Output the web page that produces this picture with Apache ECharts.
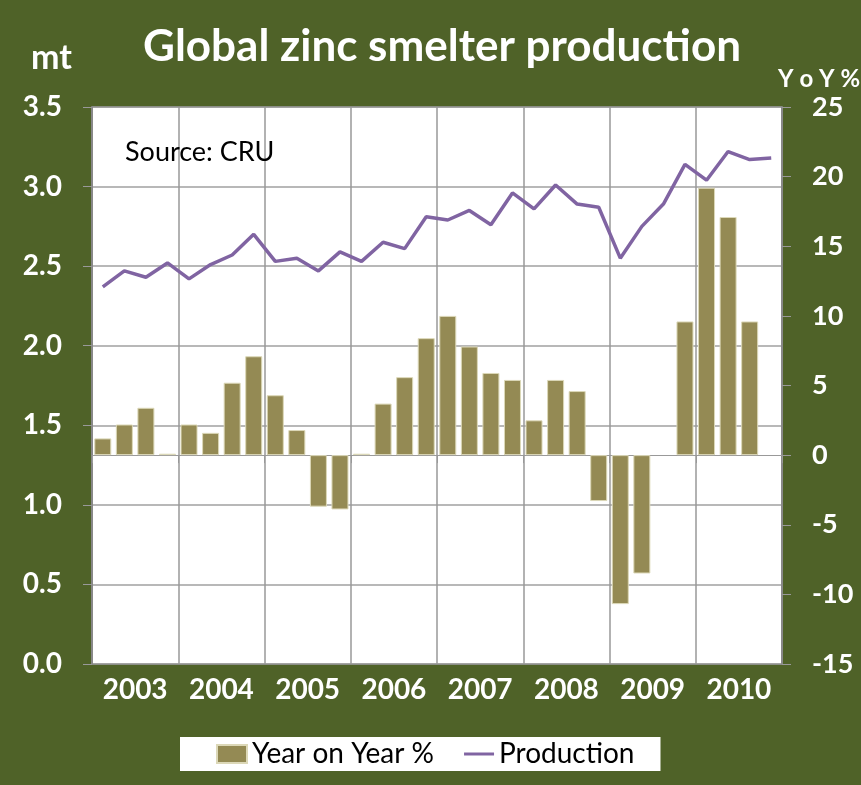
<!DOCTYPE html>
<html>
<head>
<meta charset="utf-8">
<script src="https://cdn.jsdelivr.net/npm/echarts@6/dist/echarts.min.js"></script>
<style>
  html, body { margin: 0; padding: 0; background: #4f6228; }
  #chart { width: 861px; height: 785px; }
</style>
</head>
<body>
<div id="chart"></div>
<script>
// quarterly data, 2003 Q1 .. 2010 Q4
var years = ["2003", "2004", "2005", "2006", "2007", "2008", "2009", "2010"];
var quarters = [];
years.forEach(function (y) {
  quarters.push(y + " Q1", y + " Q2", y + " Q3", y + " Q4");
});

// Production, million tonnes (left axis)
var production = [
  2.37, 2.47, 2.43, 2.52,
  2.42, 2.51, 2.57, 2.70,
  2.53, 2.55, 2.47, 2.59,
  2.53, 2.65, 2.61, 2.81,
  2.79, 2.85, 2.76, 2.96,
  2.86, 3.01, 2.89, 2.87,
  2.55, 2.75, 2.89, 3.14,
  3.04, 3.22, 3.17, 3.18
];

// Year on year change, % (right axis)
var yoy = [
  1.2, 2.2, 3.4, 0.1,
  2.2, 1.6, 5.2, 7.1,
  4.3, 1.8, -3.7, -3.9,
  0.1, 3.7, 5.6, 8.4,
  10.0, 7.8, 5.9, 5.4,
  2.5, 5.4, 4.6, -3.3,
  -10.7, -8.5, null, 9.6,
  19.2, 17.1, 9.6, null
];

var leftTicks = { min: 0, max: 3.5, interval: 0.5 };
var rightTicks = { min: -15, max: 25, interval: 5 };

var font = "Lato";
var myChart = echarts.init(document.getElementById("chart"));

var option = {
  backgroundColor: "#4f6228",
  animation: false,
  textStyle: { fontFamily: font },
  title: [
    {
      text: "Global zinc smelter production",
      left: 437,
      top: 20,
      textAlign: "center",
      textStyle: { color: "#fff", fontSize: 44, fontWeight: "bold", fontFamily: font }
    },
    {
      text: "mt",
      left: 26,
      top: 36,
      textStyle: { color: "#fff", fontSize: 34, fontWeight: "bold", fontFamily: font }
    },
    {
      text: "Y o Y %",
      left: 773,
      top: 62,
      textStyle: { color: "#fff", fontSize: 24, fontWeight: "bold", fontFamily: font }
    },
    {
      text: "Source: CRU",
      left: 120,
      top: 134,
      textStyle: { color: "#000", fontSize: 27, fontWeight: "normal", fontFamily: font }
    }
  ],
  legend: {
    left: 180,
    top: 737,
    backgroundColor: "#fff",
    padding: [3, 26, 3, 36],
    itemGap: 30,
    itemWidth: 30,
    itemHeight: 18,
    textStyle: { color: "#000", fontSize: 28, fontFamily: font },
    data: [
      { name: "Year on Year %", icon: "rect" },
      { name: "Production", icon: "path://M0,0 L30,0 L30,3 L0,3 Z" }
    ]
  },
  grid: {
    left: 92,
    right: 79,
    top: 107,
    bottom: 121,
    show: true,
    backgroundColor: "#fff",
    borderColor: "#555",
    borderWidth: 1
  },
  xAxis: [
    {
      type: "category",
      data: quarters,
      position: "bottom",
      axisLine: { show: false },
      axisTick: { show: false },
      axisLabel: { show: false },
      splitLine: { show: false }
    },
    {
      type: "category",
      data: years,
      position: "bottom",
      boundaryGap: true,
      axisLine: { show: true, lineStyle: { color: "#999" } },
      axisTick: { show: true, length: 8, lineStyle: { color: "#999" } },
      axisLabel: { color: "#fff", fontSize: 28, fontWeight: "bold", fontFamily: font, margin: 12 },
      splitLine: { show: true, lineStyle: { color: "#999", width: 1.5 } }
    }
  ],
  yAxis: [
    {
      type: "value",
      min: leftTicks.min,
      max: leftTicks.max,
      interval: leftTicks.interval,
      position: "left",
      axisLine: { show: true, lineStyle: { color: "#888", width: 2 } },
      axisTick: { show: true, length: 9, lineStyle: { color: "#999" } },
      axisLabel: {
        color: "#fff", fontSize: 28, fontWeight: "bold", fontFamily: font, margin: 30,
        formatter: function (v) { return v.toFixed(1); }
      },
      splitLine: { show: true, lineStyle: { color: "#a0a0a0", width: 1.5 } }
    },
    {
      type: "value",
      min: rightTicks.min,
      max: rightTicks.max,
      interval: rightTicks.interval,
      position: "right",
      axisLine: { show: true, lineStyle: { color: "#888", width: 2 } },
      axisTick: { show: true, length: 9, lineStyle: { color: "#999" } },
      axisLabel: { color: "#fff", fontSize: 27, fontWeight: "bold", fontFamily: font, margin: 30 },
      splitLine: { show: false }
    }
  ],
  series: [
    {
      name: "Year on Year %",
      type: "bar",
      xAxisIndex: 0,
      yAxisIndex: 1,
      data: yoy,
      barWidth: 17,
      itemStyle: { color: "#948a54", borderColor: "#dcd8b8", borderWidth: 1 }
    },
    {
      name: "Production",
      type: "line",
      xAxisIndex: 0,
      yAxisIndex: 0,
      data: production,
      symbol: "none",
      lineStyle: { color: "#8064a2", width: 3.5 },
      itemStyle: { color: "#8064a2" }
    }
  ]
};

myChart.setOption(option);
window.addEventListener("resize", function () {
  myChart.resize();
});
</script>
</body>
</html>
